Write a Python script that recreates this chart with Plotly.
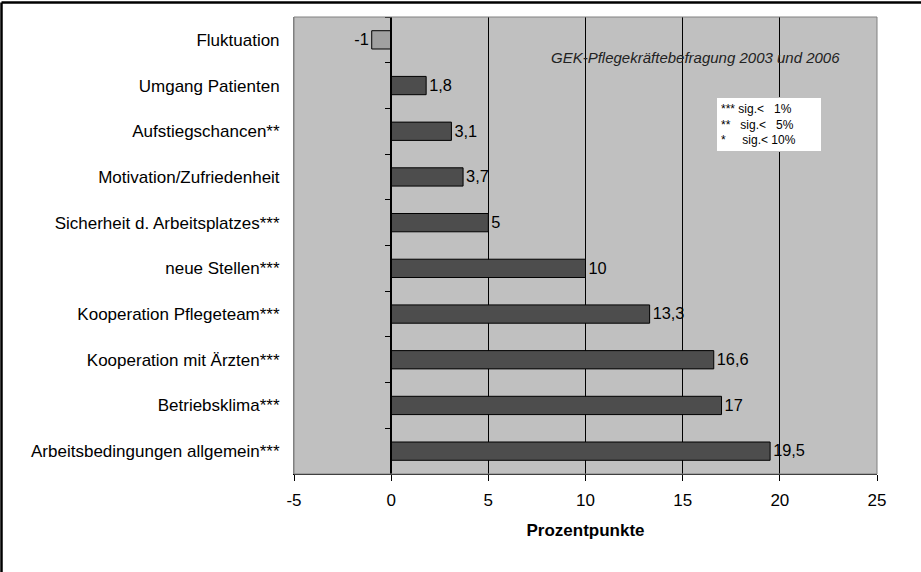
import plotly.graph_objects as go

categories = [
    "Fluktuation",
    "Umgang Patienten",
    "Aufstiegschancen**",
    "Motivation/Zufriedenheit",
    "Sicherheit d. Arbeitsplatzes***",
    "neue Stellen***",
    "Kooperation Pflegeteam***",
    "Kooperation mit Ärzten***",
    "Betriebsklima***",
    "Arbeitsbedingungen allgemein***",
]
values = [-1, 1.8, 3.1, 3.7, 5, 10, 13.3, 16.6, 17, 19.5]
x_ticks = [-5, 0, 5, 10, 15, 20, 25]

n = len(categories)
ypos = list(range(n))  # 0 = top
labels = [f"{v:g}".replace(".", ",") for v in values]
colors = ["#A0A0A0" if v < 0 else "#4D4D4D" for v in values]

FONT = "Liberation Sans, Arial, sans-serif"

fig = go.Figure()
fig.add_trace(go.Bar(
    x=values, y=ypos, orientation="h",
    marker=dict(color=colors, line=dict(color="black", width=1)),
    width=0.4,
    text=labels, textposition="outside", cliponaxis=False,
    textfont=dict(family=FONT, size=17, color="black"),
    showlegend=False, hoverinfo="skip",
))

xmin, xmax = -5, 25
L, R, T, B = 294, 44, 17, 98
W, H = 921, 572
pw, ph = W - L - R, H - T - B

fig.update_layout(
    width=W, height=H,
    margin=dict(l=L, r=R, t=T, b=B, pad=0, autoexpand=False),
    paper_bgcolor="white",
    plot_bgcolor="#C0C0C0",
    font=dict(family=FONT, size=17, color="black"),
    xaxis=dict(
        range=[xmin, xmax], tickvals=x_ticks,
        ticktext=[str(t) for t in x_ticks],
        showgrid=True, gridcolor="black", gridwidth=1,
        zeroline=False,
        showline=True, linecolor="black", linewidth=1,
        ticks="outside", ticklen=6, tickcolor="black",
        tickfont=dict(size=17), ticklabelstandoff=5,
        title=dict(text="<b>Prozentpunkte</b>", font=dict(size=17), standoff=14),
    ),
    yaxis=dict(
        range=[n - 0.5, -0.5],
        tickvals=ypos, ticktext=categories,
        ticks="", showgrid=False, zeroline=False,
        showline=True, linecolor="#808080", linewidth=1,
        tickfont=dict(size=17), ticklabelstandoff=10,
    ),
    yaxis2=dict(
        overlaying="y", anchor="free",
        position=(0 - xmin) / (xmax - xmin),
        range=[n - 0.5, -0.5],
        tickvals=[i + 0.5 for i in range(-1, n)],
        showticklabels=False,
        ticks="outside", ticklen=5, tickcolor="black",
        showline=True, linecolor="black", linewidth=2,
        showgrid=False, zeroline=False,
    ),
)

fig.add_trace(go.Scatter(x=[None], y=[None], yaxis="y2", showlegend=False,
                         hoverinfo="skip"))

# plot area border
fig.add_shape(type="rect", xref="paper", yref="paper", x0=0, x1=1, y0=0, y1=1,
              line=dict(color="#808080", width=1), layer="above")
# outer frame: top and left edges (the picture is cropped at right/bottom)
ytop = (ph + T - 2.5) / ph
xleft = -(L - 1.5) / pw
fig.add_shape(type="line", xref="paper", yref="paper",
              x0=xleft, x1=(W - L) / pw, y0=ytop, y1=ytop,
              line=dict(color="black", width=2.5))
fig.add_shape(type="line", xref="paper", yref="paper",
              x0=xleft, x1=xleft, y0=-B / ph, y1=ytop,
              line=dict(color="black", width=2.5))

fig.add_annotation(
    x=(695 - L) / pw, y=1 - (58 - T) / ph, xref="paper", yref="paper",
    xanchor="center", yanchor="middle",
    text="<i>GEK-Pflegekräftebefragung 2003 und 2006</i>",
    showarrow=False, font=dict(size=15, color="#222222"),
)
fig.add_annotation(
    x=(716 - L) / pw, y=1 - (97 - T) / ph, xref="paper", yref="paper",
    xanchor="left", yanchor="top", align="left",
    text="***\u00a0sig.<\u00a0\u00a0\u00a01%<br>**\u00a0\u00a0\u00a0sig.<\u00a0\u00a0\u00a05%<br>*\u00a0\u00a0\u00a0\u00a0\u00a0sig.<\u00a010%",
    showarrow=False, font=dict(size=12, color="black"),
    bgcolor="white", bordercolor="#C0C0C0", borderwidth=1, borderpad=4,
    width=96,
)

fig.write_html("out.html", config={"displayModeBar": False},
               post_script="document.body.style.margin='0';")
